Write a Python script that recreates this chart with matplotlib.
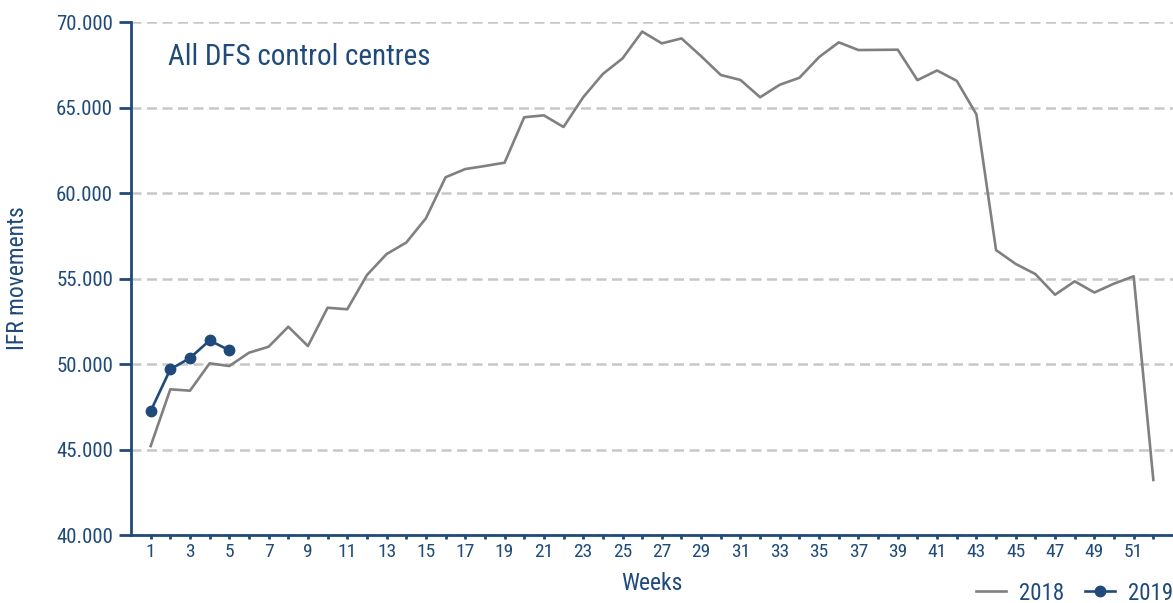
import matplotlib
matplotlib.use("Agg")
import matplotlib.pyplot as plt
from matplotlib.ticker import FuncFormatter, MultipleLocator, FixedLocator
from matplotlib import font_manager

weeks_2018 = list(range(1, 53))
values_2018 = [45200, 48520, 48440, 50040, 49880, 50660, 51010, 52180, 51050, 53290,
               53200, 55200, 56430, 57100, 58520, 60920, 61400, 61580, 61770, 64430,
               64540, 63860, 65600, 66960, 67870, 69440, 68750, 69040, 68000, 66900,
               66610, 65600, 66330, 66740, 67950, 68810, 68360, 68370, 68380, 66600,
               67165, 66560, 64600, 56660, 55850, 55260, 54050, 54835, 54180, 54700,
               55130, 43220]
weeks_2019 = [1, 2, 3, 4, 5]
values_2019 = [47250, 49690, 50350, 51380, 50800]
series_labels = ["2018", "2019"]
title_text = "All DFS control centres"
x_label = "Weeks"
y_label = "IFR movements"

names = {f.name for f in font_manager.fontManager.ttflist}
fam = [f for f in ["Liberation Sans Narrow", "Roboto Condensed", "Open Sans Condensed", "Liberation Sans"] if f in names]
plt.rcParams['font.family'] = fam + ["DejaVu Sans"]

BLUE = "#1f4a7a"
GRAY = "#808080"
GRID = "#c8c8c8"

fig = plt.figure(figsize=(11.73, 6.03), dpi=100)
ax = fig.add_axes([131/1173, (603-535)/603, 1 - 131/1173, (535-22)/603])

ax.plot(weeks_2018, values_2018, color=GRAY, lw=1.9, label=series_labels[0], zorder=3)
ax.plot(weeks_2019, values_2019, color=BLUE, lw=1.9, marker="o", markersize=7.5,
        label=series_labels[1], zorder=4)

ax.set_xlim(0, 53)
ax.set_ylim(40000, 70000)
ax.yaxis.set_major_locator(MultipleLocator(5000))
ax.yaxis.set_major_formatter(FuncFormatter(lambda v, p: f"{v:,.0f}".replace(",", ".")))
ax.xaxis.set_major_locator(FixedLocator(list(range(1, 53, 2))))
ax.xaxis.set_minor_locator(FixedLocator(list(range(2, 53, 2))))

ax.grid(axis="y", color=GRID, lw=1.8, ls=(0, (4, 2.2)), zorder=1)
ax.set_axisbelow(True)

for s in ["top", "right"]:
    ax.spines[s].set_visible(False)
for s in ["left", "bottom"]:
    ax.spines[s].set_color(BLUE)
    ax.spines[s].set_linewidth(2)

ax.tick_params(axis="y", colors=BLUE, labelsize=15, length=9, width=2, pad=4)
ax.tick_params(axis="x", which="both", colors=BLUE, labelsize=14, length=3, width=2, pad=2.5)

fig.text(168/1173, 1 - 57/603, title_text, fontsize=21, color=BLUE, va="center", ha="left")
fig.text(18/1173, 1 - 278/603, y_label, rotation=90, fontsize=17, color=BLUE, ha="center", va="center")
fig.text(652/1173, 1 - 583/603, x_label, fontsize=17, color=BLUE, ha="center", va="center")

leg = fig.legend(loc="center right", bbox_to_anchor=(1.0, 1 - 593/603), ncol=2, frameon=False,
                 fontsize=16.5, labelcolor=BLUE, handlelength=1.3, columnspacing=0.9, handletextpad=0.57,
                 borderaxespad=0, borderpad=0)

fig.savefig("out.png", dpi=100)
